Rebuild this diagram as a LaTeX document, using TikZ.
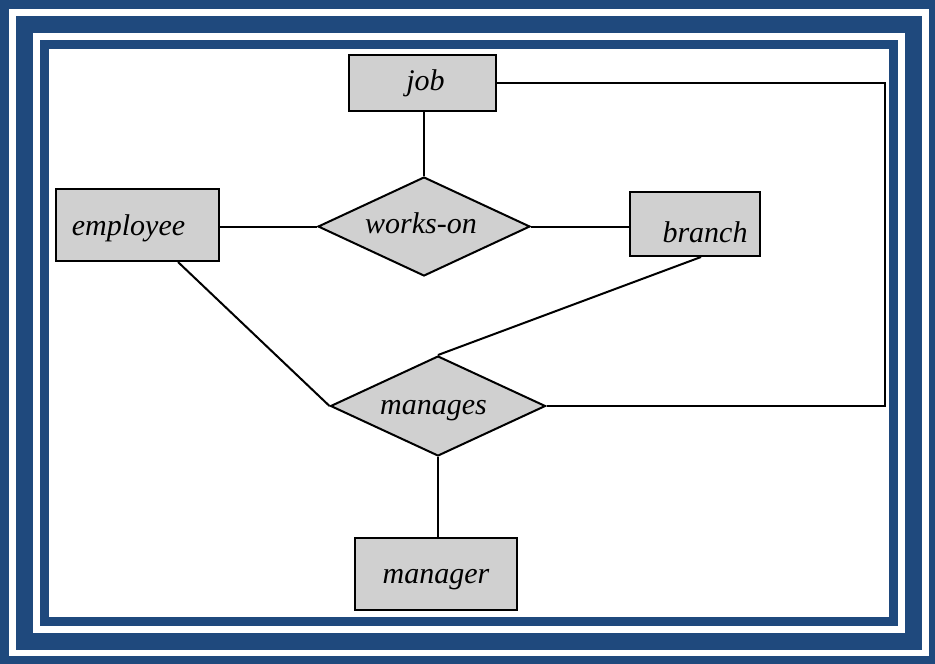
\documentclass[tikz,border=0pt]{standalone}
\usepackage{fontspec}
\setmainfont{Liberation Serif}
\usetikzlibrary{shapes.geometric}
\definecolor{frameblue}{RGB}{31,73,125}
\definecolor{boxgray}{RGB}{208,208,208}
\begin{document}
\begin{tikzpicture}[x=1pt,y=-1pt,
  erlabel/.style={font=\itshape\fontsize{30}{32}\selectfont, text depth=0pt},
  entity/.style={rectangle, draw=black, fill=boxgray, line width=2pt, inner sep=0pt, erlabel},
  relation/.style={diamond, aspect=2.2, draw=black, fill=boxgray, line width=2pt, inner sep=0pt, erlabel},
  link/.style={line width=2pt, draw=black}]
\useasboundingbox (0,0) rectangle (935,664);
% frame
\fill[frameblue] (0,0) rectangle (935,664);
\fill[white] (9,9) rectangle (929,656);
\fill[frameblue] (16,16) rectangle (922,650);
\fill[white] (33,33) rectangle (905,633);
\fill[frameblue] (40,40) rectangle (898,626);
\fill[white] (49,49) rectangle (889,617);
% nodes
\node[entity, minimum width=147pt, minimum height=56pt, text height=14pt] (job) at (422.5,83) {\hspace*{6pt}job};
\node[entity, minimum width=163pt, minimum height=72pt, text height=20pt] (emp) at (137.5,225) {employee\hspace*{18pt}};
\node[entity, minimum width=130pt, minimum height=64pt, text height=36pt] (branch) at (695,224) {\hspace*{20pt}branch};
\node[entity, minimum width=162pt, minimum height=72pt, text height=18pt] (mgr) at (436,574) {manager};
\node[relation, minimum width=212pt, minimum height=99pt, text height=13pt] (works) at (424,226.5) {works-on\hspace*{6pt}};
\node[relation, minimum width=215pt, minimum height=100pt, text height=16pt] (manages) at (438,406) {manages\hspace*{9pt}};
\coordinate (corner) at (885,406);
% connectors
\draw[link] (works.north |- job.south) -- (works.north);
\draw[link] (works.west -| emp.east) -- (works.west);
\draw[link] (works.east) -- (works.east -| branch.west);
\draw[link] ([xshift=40.5pt]emp.south) -- (manages.west);
\draw[link] ([xshift=6pt]branch.south) -- (manages.north);
\draw[link] (job.east) -| (corner) -- (manages.east);
\draw[link] (manages.south) -- (manages.south |- mgr.north);
\end{tikzpicture}
\end{document}
